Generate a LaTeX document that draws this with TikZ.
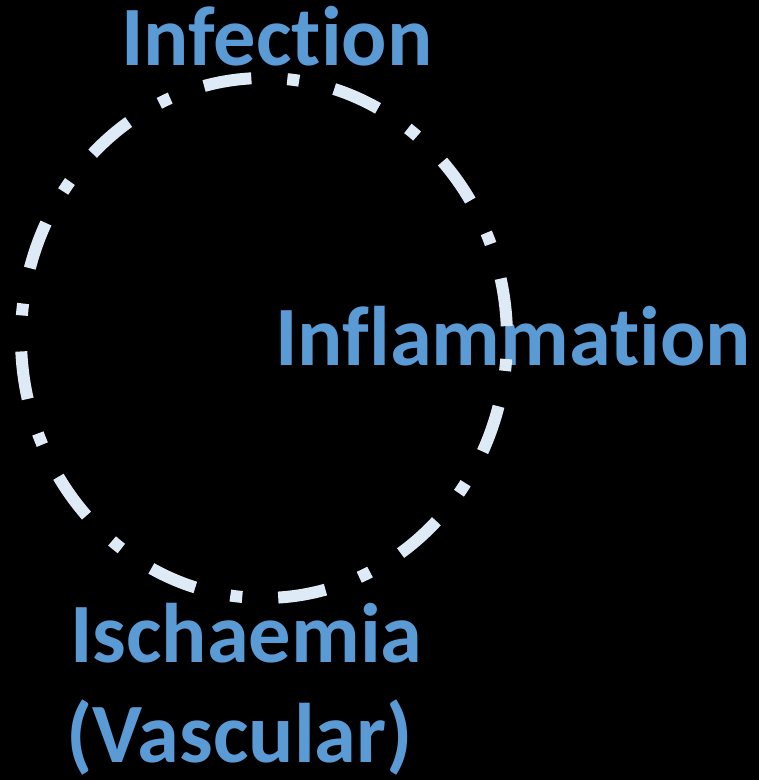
\documentclass[tikz,border=0pt]{standalone}
\usepackage{fontspec}
\setmainfont[Ligatures=CommonOff]{Carlito}
\definecolor{labelblue}{HTML}{5B9BD5}
\definecolor{ringcol}{HTML}{DEEBF7}
\begin{document}
\begin{tikzpicture}[x=1pt,y=-1pt,
  lbl/.style={inner sep=0pt, anchor=base west, text=labelblue,
    font=\fontsize{84.5}{100}\selectfont\bfseries},
  ring/.style={draw=ringcol, line width=12pt, line cap=butt,
    dash pattern=on 48pt off 36pt on 12pt off 36pt, dash phase=63pt}]
\fill[black] (0,0) rectangle (759,780);
\useasboundingbox (0,0) rectangle (759,780);
\node[lbl] (infection) at (121,65) {Infection};
\node[lbl] (inflammation) at (275,365) {Inflammation};
\node[lbl] (ischaemia) at (70,662) {Ischaemia};
\node[lbl] (vascular) at (66,762) {(Vascular)};
\coordinate (c) at (264,338);
\draw[ring] (c) ellipse [x radius=243, y radius=260];
\end{tikzpicture}
\end{document}
